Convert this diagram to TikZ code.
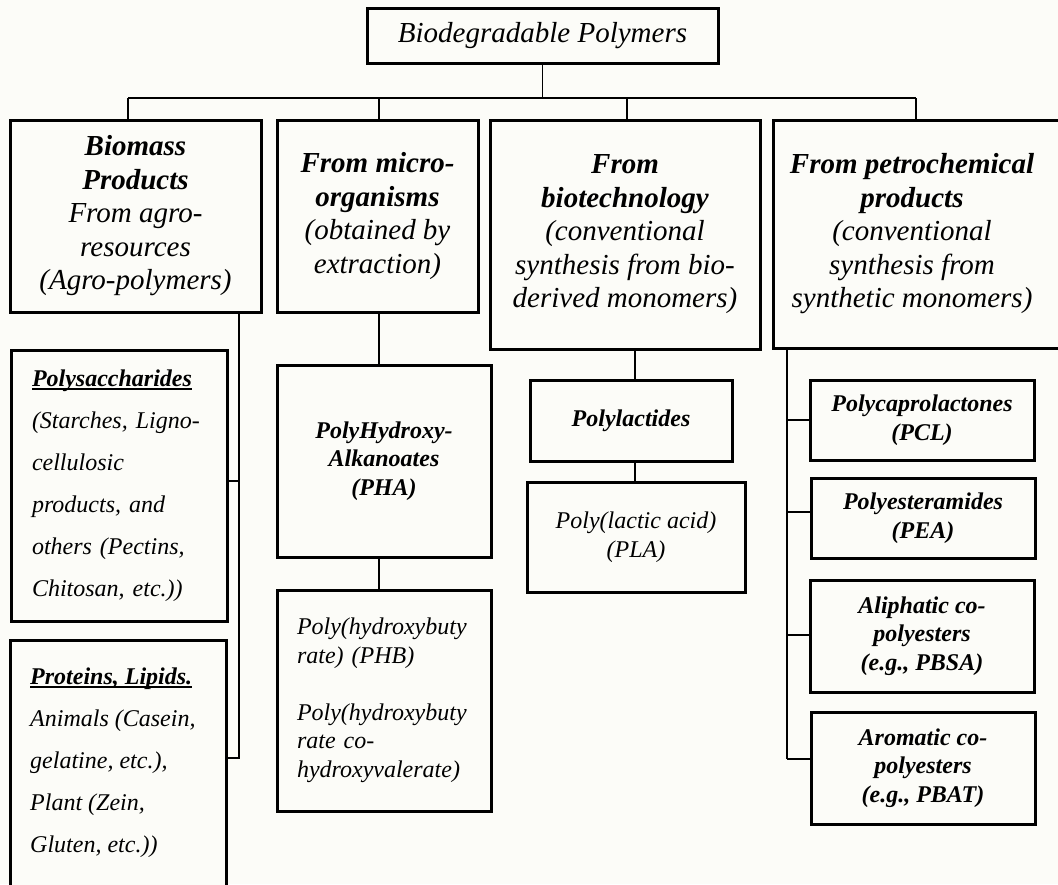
\documentclass[tikz,border=0pt]{standalone}
\usepackage{fontspec}
\setmainfont{Liberation Serif}
\definecolor{bg}{HTML}{FCFCF8}
\newcommand\myul[1]{\setbox0\hbox{#1}\rlap{\rule[-3.5pt]{\wd0}{1.8pt}}\box0}
\begin{document}
\begin{tikzpicture}[x=1pt,y=-1pt,
  box/.style={draw=black, line width=3pt, fill=bg, inner sep=0pt, align=center},
  conn/.style={line width=1.3pt},
  big/.style={font=\fontsize{29}{33.5}\selectfont\itshape},
  small/.style={font=\fontsize{24}{28.5}\selectfont\itshape},
  dbl/.style={font=\fontsize{24}{42}\selectfont\itshape}
]
\useasboundingbox (0,0) rectangle (1058,884);
\fill[bg] (0,0) rectangle (1058,884);
\clip (0,0) rectangle (1058,884);

% top
\node[box, big, minimum width=351pt, minimum height=55pt] (top) at (542.5,35.5) {Biodegradable Polymers};

% level 1
\node[box, big, minimum width=251pt, minimum height=192pt] (bio) at (135.5,216)
  {\textbf{Biomass}\\\textbf{Products}\\From agro-\\resources\\(Agro-polymers)};
\node[box, big, minimum width=201pt, minimum height=192pt] (micro) at (377.5,216)
  {\textbf{From micro-}\\\textbf{organisms}\\(obtained by\\extraction)};
\node[box, big, minimum width=270pt, minimum height=229pt] (biot) at (625,234.5)
  {\textbf{From}\\\textbf{biotechnology}\\(conventional\\synthesis from bio-\\derived monomers)};
\node[box, minimum width=297pt, minimum height=228pt] (petro) at (921.5,234) {};
\node[big, align=center, inner sep=0pt] (petrotxt) at (912,234)
  {\textbf{From petrochemical}\\\textbf{products}\\(conventional\\synthesis from\\synthetic monomers)};

% biomass children
\node[box, dbl, minimum width=216pt, minimum height=271pt, text width=174pt, align=left] (poly) at (119,485.5)
  {\myul{\textbf{Polysaccharides}}\\(Starches, Ligno-\\cellulosic\\products, and\\others (Pectins,\\Chitosan, etc.))};
\node[box, minimum width=216pt, minimum height=265pt] (prot) at (118,772.5) {};
\node[dbl, anchor=west, align=left, inner sep=0pt] (prottxt) at (30,763)
  {\myul{\textbf{Proteins, Lipids.}}\\Animals (Casein,\\gelatine, etc.),\\Plant (Zein,\\Gluten, etc.))};

% micro children
\node[box, small, minimum width=214pt, minimum height=192pt] (pha) at (384,461)
  {\textbf{PolyHydroxy-}\\\textbf{Alkanoates}\\\textbf{(PHA)}};
\node[box, small, minimum width=214pt, minimum height=221pt, text width=174pt, align=left] (phb) at (384,700.5)
  {Poly(hydroxybuty\\rate) (PHB)\\[28.5pt]Poly(hydroxybuty\\rate co-\\hydroxyvalerate)};

% biotech children
\node[box, small, minimum width=202pt, minimum height=81pt] (plac) at (631,420.5) {\textbf{Polylactides}};
\node[box, small, minimum width=218pt, minimum height=110pt] (pla) at (636,537) {Poly(lactic acid)\\(PLA)};

% petro children
\node[box, small, minimum width=224pt, minimum height=80pt] (pcl) at (922,420)
  {\textbf{Polycaprolactones}\\\textbf{(PCL)}};
\node[box, small, minimum width=224pt, minimum height=80pt] (pea) at (923,518)
  {\textbf{Polyesteramides}\\\textbf{(PEA)}};
\node[box, small, minimum width=224pt, minimum height=112pt] (ali) at (922,636)
  {\textbf{Aliphatic co-}\\\textbf{polyesters}\\\textbf{(e.g., PBSA)}};
\node[box, small, minimum width=224pt, minimum height=112pt] (aro) at (923,768)
  {\textbf{Aromatic co-}\\\textbf{polyesters}\\\textbf{(e.g., PBAT)}};

% connectors: top level
\coordinate (hub) at (542.5,98);
\coordinate (h1) at (128,98);
\coordinate (h2) at (379,98);
\coordinate (h3) at (627,98);
\coordinate (h4) at (916,98);
\draw[conn] (top.south) -- (hub);
\draw[conn] (h1) -- (h4);
\draw[conn] (h1) -- (h1 |- bio.north);
\draw[conn] (h2) -- (h2 |- micro.north);
\draw[conn] (h3) -- (h3 |- biot.north);
\draw[conn] (h4) -- (h4 |- petro.north);

% biomass bus
\coordinate (ba) at (239,481);
\coordinate (bb) at (239,758);
\draw[conn] (bb |- bio.south) -- (bb) -- (bb -| prot.east);
\draw[conn] (ba) -- (ba -| poly.east);

% micro chain
\coordinate (m) at (379,0);
\draw[conn] (m |- micro.south) -- (m |- pha.north);
\draw[conn] (m |- pha.south) -- (m |- phb.north);

% biotech chain
\coordinate (t) at (635,0);
\draw[conn] (t |- biot.south) -- (t |- plac.north);
\draw[conn] (t |- plac.south) -- (t |- pla.north);

% petro bus
\coordinate (p1) at (787,420);
\coordinate (p2) at (787,512);
\coordinate (p3) at (787,635);
\coordinate (p4) at (787,759);
\draw[conn] (p4 |- petro.south) -- (p4);
\draw[conn] (p1) -- (p1 -| pcl.west);
\draw[conn] (p2) -- (p2 -| pea.west);
\draw[conn] (p3) -- (p3 -| ali.west);
\draw[conn] (p4) -- (p4 -| aro.west);
\end{tikzpicture}
\end{document}
